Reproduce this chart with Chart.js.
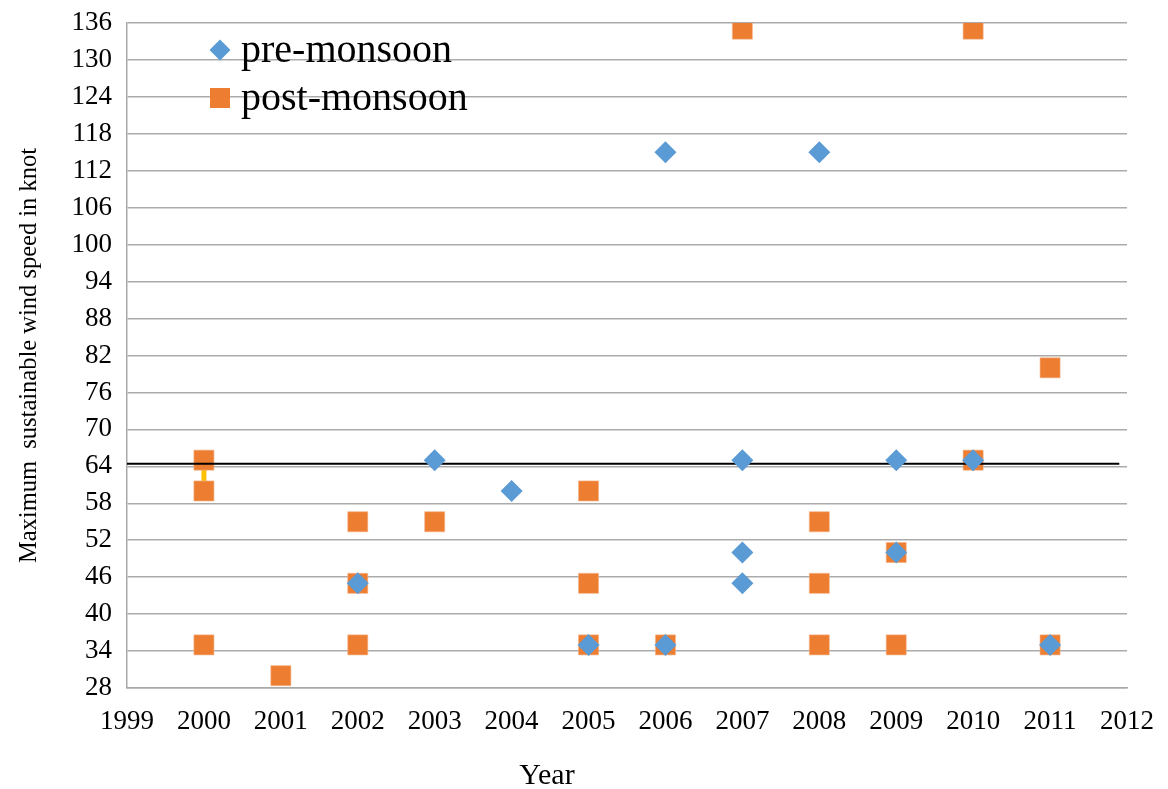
<!DOCTYPE html>
<html>
<head>
<meta charset="utf-8">
<script src="https://cdn.jsdelivr.net/npm/chart.js@4"></script>
<style>
  html, body { margin: 0; padding: 0; background: #fff; }
  #wrap { width: 1168px; height: 789px; position: relative; }
</style>
</head>
<body>
<div id="wrap"><canvas id="chart"></canvas></div>
<script>
// Cyclone maximum sustained wind speed (knot) by year
const preYears  = [2002, 2003, 2004, 2005, 2006, 2006, 2007, 2007, 2007, 2008, 2009, 2009, 2010, 2011];
const preSpeed  = [45,   65,   60,   35,   115,  35,   65,   50,   45,   115,  65,   50,   65,   35];

const postYears = [2000, 2000, 2000, 2001, 2002, 2002, 2002, 2003, 2005, 2005, 2005, 2006, 2007, 2008, 2008, 2008, 2009, 2009, 2010, 2010, 2011, 2011];
const postSpeed = [65,   60,   35,   30,   55,   45,   35,   55,   60,   45,   35,   35,   135,  55,   45,   35,   50,   35,   135,  65,   80,   35];

// Severe cyclone threshold line
const thresholdYears = [1999, 2011.9];
const thresholdSpeed = [64.4, 64.4];

// Short connector at 2000
const linkYears = [2000, 2000];
const linkSpeed = [60, 65];

const xMin = 1999, xMax = 2012, xStep = 1;
const yMin = 28, yMax = 136, yStep = 6;

const seriesNames = ['pre-monsoon', 'post-monsoon'];
const BLUE = '#5B9BD5', ORANGE = '#ED7D31';
const SERIF = '"Liberation Serif", "Times New Roman", serif';

const toPoints = (xs, ys) => xs.map((x, i) => ({ x: x, y: ys[i] }));

// Legend and x-axis title drawn in plot coordinates
const extras = {
  id: 'extras',
  afterDraw(chart) {
    const ctx = chart.ctx;
    ctx.save();
    // legend
    const lx = 220, rows = [50, 98];
    ctx.font = '40px ' + SERIF;
    ctx.textBaseline = 'middle';
    ctx.textAlign = 'left';
    // diamond
    ctx.fillStyle = BLUE;
    ctx.beginPath();
    ctx.moveTo(lx - 10.5, rows[0]);
    ctx.lineTo(lx, rows[0] - 10.5);
    ctx.lineTo(lx + 10.5, rows[0]);
    ctx.lineTo(lx, rows[0] + 10.5);
    ctx.closePath();
    ctx.fill();
    // square
    ctx.fillStyle = ORANGE;
    ctx.fillRect(lx - 10, rows[1] - 10, 20, 20);
    ctx.fillStyle = '#000';
    ctx.fillText(seriesNames[0], 241, rows[0] + 1);
    ctx.fillText(seriesNames[1], 241, rows[1] + 1);
    // x title
    ctx.font = '30px ' + SERIF;
    ctx.textAlign = 'center';
    ctx.fillText('Year', 547, 776);
    ctx.restore();
  }
};

new Chart(document.getElementById('chart'), {
  type: 'scatter',
  data: {
    datasets: [
      {
        label: seriesNames[0],
        data: toPoints(preYears, preSpeed),
        pointStyle: 'rectRot',
        pointRadius: 11,
        backgroundColor: BLUE,
        borderColor: BLUE,
        borderWidth: 0,
        order: 0
      },
      {
        type: 'line',
        label: 'threshold',
        data: toPoints(thresholdYears, thresholdSpeed),
        borderColor: '#000',
        borderWidth: 2,
        pointRadius: 0,
        fill: false,
        order: 1
      },
      {
        label: seriesNames[1],
        data: toPoints(postYears, postSpeed),
        pointStyle: 'rect',
        pointRadius: 14.2,
        backgroundColor: ORANGE,
        borderColor: '#F6B58C',
        borderWidth: 0.6,
        order: 2
      },
      {
        type: 'line',
        label: 'link',
        data: toPoints(linkYears, linkSpeed),
        borderColor: '#FFC000',
        borderWidth: 5,
        pointRadius: 0,
        fill: false,
        order: 3
      }
    ]
  },
  options: {
    responsive: true,
    maintainAspectRatio: false,
    animation: false,
    layout: { padding: { left: 0, top: 23, right: 41, bottom: 0 } },
    plugins: {
      legend: { display: false },
      tooltip: { enabled: false }
    },
    scales: {
      x: {
        type: 'linear',
        min: xMin, max: xMax,
        afterFit(scale) {
          scale.height = 101;
          scale.paddingLeft = 0;
          scale.paddingRight = 0;
        },
        ticks: {
          stepSize: xStep,
          padding: 18,
          color: '#000',
          font: { family: SERIF, size: 27 },
          callback: v => String(v)
        },
        grid: { display: false, drawTicks: false },
        border: { display: true, color: '#A9A9A9', width: 1.5 }
      },
      y: {
        min: yMin, max: yMax,
        afterFit(scale) {
          scale.width = 127;
          scale.paddingTop = 0;
          scale.paddingBottom = 0;
        },
        ticks: {
          stepSize: yStep,
          padding: 15,
          color: '#000',
          font: { family: SERIF, size: 27 },
          callback: v => String(v)
        },
        grid: { color: '#ABABAB', lineWidth: 1.5, drawTicks: false },
        border: { display: true, color: '#A9A9A9', width: 1.5 },
        title: {
          display: true,
          text: 'Maximum  sustainable wind speed in knot',
          color: '#000',
          font: { family: SERIF, size: 24.5 },
          padding: { top: 15, bottom: 0 }
        }
      }
    }
  },
  plugins: [extras]
});
</script>
</body>
</html>
